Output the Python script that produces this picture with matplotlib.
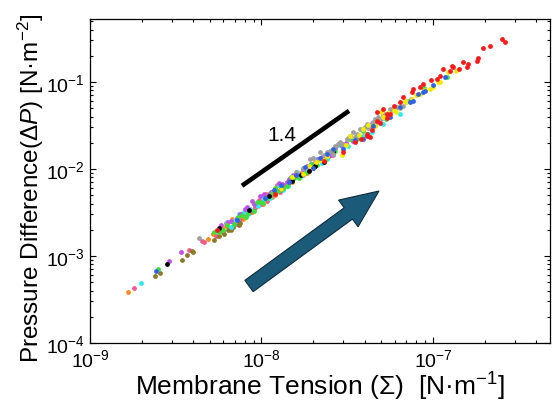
import numpy as np
import matplotlib
matplotlib.use("Agg")
import matplotlib.pyplot as plt
import matplotlib.patches as mpatches
import matplotlib.transforms as mtransforms

plt.rcParams['font.family'] = ['Liberation Sans', 'DejaVu Sans']
plt.rcParams['mathtext.fontset'] = 'custom'
plt.rcParams['mathtext.rm'] = 'Liberation Sans'
plt.rcParams['mathtext.it'] = 'Liberation Sans:italic'

# membrane tension [N/m] and pressure difference [N/m^2], one pair of lists per colour
orange_x = [1.67e-9, 4.86e-9, 5.85e-9, 6.2e-9, 6.5e-9, 7.0e-9, 7.3e-9, 7.6e-9, 8.2e-9, 8.8e-9,
            9.5e-9, 1.02e-8, 1.1e-8, 1.2e-8, 1.35e-8, 1.5e-8, 1.7e-8, 2.0e-8,
            5.2e-9, 5.9e-9, 6.7e-9, 7.8e-9, 8.5e-9, 9.2e-9, 1.06e-8, 1.15e-8, 1.3e-8, 1.43e-8,
            1.6e-8, 1.85e-8, 2.2e-8, 2.45e-8]
orange_y = [3.8e-4, 1.57e-3, 2.08e-3, 2.2e-3, 2.05e-3, 2.3e-3, 2.5e-3, 2.7e-3, 3.0e-3, 3.2e-3,
            3.9e-3, 4.0e-3, 4.7e-3, 5.0e-3, 6.4e-3, 7.0e-3, 8.9e-3, 1.02e-2,
            1.79e-3, 1.86e-3, 2.65e-3, 2.63e-3, 3.37e-3, 3.56e-3, 5.1e-3, 4.7e-3, 6.5e-3, 6.6e-3,
            8.9e-3, 8.9e-3, 1.29e-2, 1.36e-2]

pink_x = [1.81e-9, 3.79e-9, 4.48e-9, 4.6e-9, 6.0e-9, 6.8e-9, 7.4e-9, 8.0e-9, 8.5e-9, 9.2e-9,
          1.0e-8, 1.08e-8, 1.18e-8, 1.28e-8, 1.45e-8, 1.65e-8, 1.9e-8, 2.3e-8,
          5.4e-9, 6.2e-9, 7.1e-9, 7.7e-9, 8.7e-9, 9.7e-9, 1.12e-8, 1.24e-8, 1.38e-8, 1.55e-8,
          1.75e-8, 2.05e-8, 2.6e-8, 3.0e-8]
pink_y = [4.3e-4, 1.18e-3, 1.47e-3, 1.45e-3, 1.95e-3, 2.45e-3, 2.6e-3, 3.1e-3, 3.1e-3, 3.6e-3,
          3.9e-3, 4.3e-3, 5.2e-3, 5.4e-3, 7.0e-3, 8.0e-3, 9.6e-3, 1.25e-2,
          1.68e-3, 2.37e-3, 2.31e-3, 3.05e-3, 3.3e-3, 4.4e-3, 4.7e-3, 6.5e-3, 6.5e-3, 8.1e-3,
          8.5e-3, 1.21e-2, 1.44e-2, 1.94e-2]

olive_x = [2.39e-9, 2.56e-9, 3.45e-9, 3.7e-9, 3.92e-9, 4.0e-9, 5.3e-9, 5.62e-9, 6.08e-9, 6.4e-9,
           6.6e-9, 6.84e-9, 7.35e-9, 7.5e-9]
olive_y = [5.85e-4, 6.3e-4, 9.05e-4, 1.02e-3, 1.14e-3, 1.10e-3, 1.54e-3, 1.7e-3, 1.79e-3, 1.96e-3,
           1.96e-3, 2.17e-3, 2.27e-3, 2.4e-3]

green_x = [2.5e-9, 5.66e-9, 6.3e-9, 6.9e-9, 7.7e-9, 8.4e-9, 9.0e-9, 9.9e-9, 1.07e-8, 1.15e-8,
           1.25e-8, 1.4e-8, 1.55e-8, 1.8e-8, 2.1e-8, 2.7e-8, 3.3e-8, 3.9e-8, 4.6e-8, 6.0e-8,
           8.9e-8, 1.2e-7,
           5.3e-9, 6.0e-9, 7.3e-9, 8.1e-9, 9.4e-9, 1.02e-8, 1.2e-8, 1.33e-8, 1.48e-8, 1.65e-8,
           1.95e-8, 2.35e-8, 2.95e-8, 3.6e-8, 4.3e-8, 5.3e-8, 7.2e-8]
green_y = [7.0e-4, 1.87e-3, 2.25e-3, 2.3e-3, 2.95e-3, 3.1e-3, 3.3e-3, 4.2e-3, 4.6e-3, 5.3e-3,
           5.5e-3, 6.3e-3, 7.9e-3, 9.0e-3, 1.1e-2, 1.6e-2, 2.2e-2, 2.7e-2, 3.2e-2, 5.1e-2,
           0.085, 0.113,
           1.89e-3, 2.0e-3, 2.8e-3, 2.8e-3, 4.13e-3, 4.1e-3, 6.0e-3, 6.1e-3, 8.1e-3, 7.9e-3,
           1.15e-2, 1.27e-2, 1.91e-2, 2.2e-2, 3.13e-2, 3.75e-2, 6.0e-2]

cyan_x = [1.98e-9, 6.27e-9, 7.0e-9, 7.9e-9, 8.6e-9, 9.6e-9, 1.04e-8, 1.12e-8, 1.22e-8, 1.33e-8,
          1.5e-8, 1.7e-8, 1.95e-8, 2.25e-8, 2.6e-8, 3.0e-8, 3.4e-8, 3.9e-8, 4.4e-8, 6.4e-8,
          5.6e-9, 6.6e-9, 7.4e-9, 8.3e-9, 9.3e-9, 1.01e-8, 1.18e-8, 1.27e-8, 1.42e-8, 1.62e-8,
          1.82e-8, 2.1e-8, 2.4e-8, 2.8e-8, 3.2e-8, 3.6e-8, 4.2e-8, 5.1e-8]
cyan_y = [4.85e-4, 2.44e-3, 2.6e-3, 3.2e-3, 3.5e-3, 3.7e-3, 4.5e-3, 4.6e-3, 5.6e-3, 5.7e-3,
          7.6e-3, 8.2e-3, 1.08e-2, 1.18e-2, 1.5e-2, 1.8e-2, 2.1e-2, 2.4e-2, 2.63e-2, 4.3e-2,
          1.95e-3, 2.12e-3, 3.0e-3, 3.0e-3, 3.97e-3, 4.85e-3, 5.3e-3, 6.6e-3, 6.35e-3, 9.2e-3,
          9.1e-3, 1.31e-2, 1.29e-2, 1.88e-2, 1.83e-2, 2.45e-2, 2.55e-2, 3.26e-2]

purple_x = [2.9e-9, 3.4e-9, 6.6e-9, 7.5e-9, 8.2e-9, 8.78e-9, 9.8e-9, 1.1e-8, 1.2e-8, 1.32e-8,
            1.45e-8, 1.6e-8, 1.75e-8, 1.95e-8, 2.15e-8, 2.4e-8, 2.7e-8, 3.1e-8,
            5.8e-9, 6.4e-9, 7.2e-9, 8.0e-9, 9.0e-9, 1.04e-8, 1.14e-8, 1.27e-8, 1.4e-8, 1.53e-8,
            1.68e-8, 1.85e-8, 2.05e-8, 2.25e-8, 2.55e-8, 2.9e-8, 3.4e-8]
purple_y = [8.7e-4, 1.11e-3, 2.5e-3, 3.0e-3, 3.6e-3, 4.3e-3, 4.85e-3, 5.2e-3, 5.8e-3, 6.7e-3,
            7.6e-3, 8.8e-3, 1.0e-2, 1.15e-2, 1.3e-2, 1.45e-2, 1.75e-2, 2.0e-2,
            2.24e-3, 2.44e-3, 2.76e-3, 3.42e-3, 3.94e-3, 5.2e-3, 5.36e-3, 6.8e-3, 7.1e-3, 8.6e-3,
            8.5e-3, 1.07e-2, 1.07e-2, 1.38e-2, 1.46e-2, 1.89e-2, 2.09e-2]

black_x = [2.81e-9, 5.66e-9, 8.5e-9, 1.1e-8, 1.3e-8, 1.5e-8, 1.7e-8, 1.9e-8, 2.05e-8, 2.3e-8,
           2.6e-8]
black_y = [8.0e-4, 2.09e-3, 3.4e-3, 4.9e-3, 5.9e-3, 7.2e-3, 8.6e-3, 9.5e-3, 1.07e-2, 1.2e-2,
           1.55e-2]

gray_x = [4.3e-9, 1.92e-8, 2.0e-8, 2.19e-8, 2.3e-8, 2.5e-8, 2.7e-8, 2.87e-8, 3.14e-8, 3.3e-8,
          3.43e-8, 3.6e-8, 3.75e-8, 4.0e-8, 4.1e-8, 4.3e-8, 4.48e-8, 4.6e-8, 4.8e-8, 5.0e-8,
          5.25e-8, 5.61e-8, 6.14e-8, 6.71e-8, 7.4e-8,
          2.1e-8, 2.4e-8, 2.6e-8, 2.8e-8, 3.0e-8, 3.2e-8, 3.5e-8, 3.9e-8, 4.2e-8, 4.4e-8,
          4.7e-8, 5.1e-8, 5.4e-8, 5.8e-8, 6.4e-8, 7.0e-8, 1.6e-8, 1.75e-8]
gray_y = [1.62e-3, 1.3e-2, 1.35e-2, 1.58e-2, 1.45e-2, 1.6e-2, 1.85e-2, 2.02e-2, 2.21e-2, 2.4e-2,
          2.63e-2, 2.5e-2, 2.88e-2, 3.0e-2, 3.29e-2, 3.1e-2, 3.44e-2, 3.7e-2, 3.93e-2, 3.7e-2,
          4.29e-2, 4.9e-2, 5.12e-2, 5.35e-2, 6.3e-2,
          1.23e-2, 1.57e-2, 1.5e-2, 1.92e-2, 1.95e-2, 2.27e-2, 2.35e-2, 2.9e-2, 2.96e-2, 3.4e-2,
          3.52e-2, 4.15e-2, 4.1e-2, 4.75e-2, 5.0e-2, 5.9e-2, 9.1e-3, 1.03e-2]

yellow_x = [1.75e-8, 2.09e-8, 2.19e-8, 2.4e-8, 2.93e-8, 3.9e-8, 5.0e-8, 5.1e-8, 5.9e-8, 6.4e-8,
            6.9e-8, 7.0e-8, 8.0e-8, 8.4e-8, 9.6e-8, 1.0e-7, 1.07e-7, 1.23e-7, 1.37e-7,
            1.3e-8, 1.5e-8, 1.9e-8, 2.3e-8, 2.6e-8, 3.1e-8, 3.3e-8, 3.7e-8, 4.2e-8, 4.6e-8,
            5.5e-8, 6.1e-8, 7.5e-8, 9.0e-8, 1.1e-7]
yellow_y = [8.8e-3, 1.19e-2, 1.25e-2, 1.42e-2, 1.45e-2, 2.9e-2, 4.5e-2, 3.9e-2, 4.7e-2, 5.1e-2,
            6.1e-2, 5.8e-2, 7.0e-2, 7.3e-2, 8.3e-2, 8.7e-2, 9.9e-2, 0.129, 0.135,
            5.9e-3, 8.0e-3, 1.09e-2, 1.27e-2, 1.7e-2, 1.89e-2, 2.37e-2, 2.44e-2, 3.2e-2, 3.1e-2,
            4.4e-2, 4.5e-2, 6.3e-2, 8.1e-2, 0.1]

blue_x = [2.43e-9, 7.2e-9, 1.05e-8, 1.3e-8, 1.6e-8, 2.2e-8, 2.6e-8, 3.92e-8, 6.43e-8, 7.35e-8,
          7.67e-8, 8.77e-8, 8.97e-8, 1.17e-7,
          1.18e-8, 1.45e-8, 1.8e-8, 2.0e-8, 2.4e-8, 3.0e-8, 3.5e-8, 4.5e-8, 5.6e-8, 8.2e-8, 1.0e-7]
blue_y = [6.67e-4, 2.6e-3, 4.6e-3, 6.5e-3, 8.6e-3, 1.35e-2, 1.68e-2, 2.21e-2, 5.1e-2, 5.8e-2,
          6.1e-2, 7.6e-2, 7.94e-2, 0.113,
          5.7e-3, 7.0e-3, 1.06e-2, 1.02e-2, 1.47e-2, 1.71e-2, 2.17e-2, 3.15e-2, 4.0e-2, 7.2e-2, 0.093]

red_x = [5.5e-9, 1.2e-8, 2.3e-8, 2.97e-8, 3.5e-8, 3.8e-8, 4.1e-8, 4.1e-8, 4.3e-8, 4.4e-8,
         4.7e-8, 4.7e-8, 4.9e-8, 5.1e-8, 5.4e-8,
         5.4e-8, 5.6e-8, 5.9e-8, 6.4e-8, 6.7e-8, 7.5e-8, 7.7e-8, 8.4e-8, 8.8e-8, 9.8e-8,
         1.05e-7, 1.10e-7, 1.15e-7, 1.26e-7, 1.29e-7, 1.31e-7, 1.41e-7, 1.50e-7, 1.57e-7, 1.61e-7,
         1.80e-7, 1.84e-7, 1.96e-7, 2.15e-7, 2.54e-7, 2.63e-7]
red_y = [2.0e-3, 5.2e-3, 1.23e-2, 1.56e-2, 2.05e-2, 2.2e-2, 2.4e-2, 2.5e-2, 2.3e-2, 2.8e-2,
         3.6e-2, 4.5e-2, 3.4e-2, 4.9e-2, 3.8e-2,
         4.3e-2, 4.3e-2, 5.3e-2, 5.8e-2, 6.7e-2, 7.6e-2, 8.3e-2, 8.7e-2, 9.5e-2, 0.104,
         0.108, 0.118, 0.141, 0.135, 0.154, 0.148, 0.141, 0.168, 0.148, 0.161,
         0.176, 0.187, 0.244, 0.261, 0.312, 0.286]

series = [
    (orange_x, orange_y, '#ff8a1c'),
    (pink_x, pink_y, '#f25a8a'),
    (olive_x, olive_y, '#8a7a2a'),
    (cyan_x, cyan_y, '#30e8f5'),
    (purple_x, purple_y, '#c050e8'),
    (green_x, green_y, '#3ce03c'),
    (black_x, black_y, '#000000'),
    (gray_x, gray_y, '#a0a0a0'),
    (yellow_x, yellow_y, '#f7ea00'),
    (blue_x, blue_y, '#2f62e6'),
    (red_x, red_y, '#ff1a1a'),
]

# slope guide
guide_x = [7.7e-9, 3.24e-8]
guide_y = [6.4e-3, 4.65e-2]

fig, ax = plt.subplots(figsize=(5.52, 4.06), dpi=100)
fig.subplots_adjust(left=0.163, right=0.996, bottom=0.153, top=0.951)

for xs, ys, c in series:
    ax.scatter(xs, ys, s=12, c=c, linewidths=0, zorder=3)

ax.plot(guide_x, guide_y, color='black', lw=3.3, solid_capstyle='butt', zorder=4)
ax.text(1.32e-8, 0.0246, '1.4', fontsize=15, ha='center', va='center')

ax.set_xscale('log')
ax.set_yscale('log')
ax.set_xlim(1e-9, 4.8e-7)
ax.set_ylim(1e-4, 0.53)

ax.tick_params(which='both', direction='in', top=True, right=True, labelsize=14, width=0.8)
ax.tick_params(which='major', length=4)
ax.tick_params(which='minor', length=2.5)
for sp in ax.spines.values():
    sp.set_linewidth(0.9)

ax.set_xlabel('Membrane Tension (Σ)  [N·m$^{-1}$]', fontsize=19, labelpad=0)
ax.set_ylabel('Pressure Difference(Δ$P$) [N·m$^{-2}$]', fontsize=17.5)
ax.yaxis.set_label_coords(-0.095, 0.48)

# big arrow, drawn in figure pixels
arrow = mpatches.FancyArrow(249, 119, 130, 95, width=14, head_width=33, head_length=38,
                            length_includes_head=True, facecolor='#1b5a78', edgecolor='#0e2c3c',
                            linewidth=0.8, transform=mtransforms.IdentityTransform())
fig.add_artist(arrow)

fig.savefig('out.png', dpi=100)
